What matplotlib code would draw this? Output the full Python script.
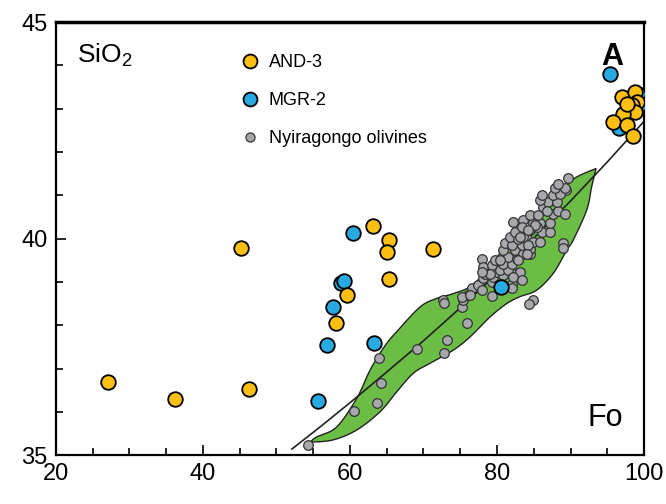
import numpy as np
import matplotlib
matplotlib.use('Agg')
import matplotlib.pyplot as plt
from matplotlib.lines import Line2D

plt.rcParams['font.family'] = ['Liberation Sans', 'DejaVu Sans']

# AND-3 (yellow)
and3_fo = [27.07, 36.19, 46.26, 45.17, 63.13, 65.27, 65.03, 65.27, 71.25, 59.63, 58.10,
           96.97, 98.78, 99.01, 98.33, 98.78, 97.18, 95.82, 97.64, 98.54, 97.64]
and3_si = [36.69, 36.29, 36.52, 39.78, 40.29, 39.98, 39.69, 39.06, 39.77, 38.70, 38.04,
           43.27, 43.39, 43.16, 43.08, 42.93, 42.89, 42.70, 42.62, 42.37, 43.12]

# MGR-2 (blue)
mgr2_fo = [60.37, 58.78, 59.22, 57.73, 56.91, 63.22, 55.65, 80.55, 95.37, 99.24, 99.46, 96.6]
mgr2_si = [40.12, 38.98, 39.03, 38.41, 37.54, 37.58, 36.24, 38.89, 43.80, 43.35, 43.12, 42.55]

# Nyiragongo olivines (gray)
nyi_fo = [54.33, 60.55, 63.72, 64.18, 63.91, 69.08, 72.79, 73.24, 75.88, 72.70,
          72.79, 75.20, 75.42, 76.10, 76.56, 77.46, 77.92, 78.14, 78.37, 79.28,
          79.50, 79.96, 80.86, 80.64, 79.28, 82.00, 82.00, 82.14, 77.92, 78.14,
          79.28, 80.41, 81.54, 79.05, 77.92, 79.73, 80.86, 82.00, 80.64, 81.54,
          82.68, 80.86, 82.45, 83.58, 84.49, 81.09, 82.00, 83.36, 84.49, 81.77,
          82.90, 84.04, 84.94, 85.85, 82.45, 84.49, 86.08, 87.21, 82.22, 83.58,
          83.36, 84.94, 85.85, 87.21, 84.49, 85.62, 87.66, 88.34, 89.25, 86.30,
          86.98, 88.12, 85.85, 86.08, 87.66, 89.39, 88.57, 87.89, 89.25, 88.34,
          89.62, 89.02, 89.02, 84.94, 84.40, 83.58, 84.26, 84.04, 83.13, 83.13,
          85.40, 82.90, 82.22, 83.36, 80.41, 86.76, 85.17, 84.26, 75.20, 76.33]
nyi_si = [35.24, 36.02, 36.20, 36.66, 37.24, 37.44, 37.37, 37.67, 38.06, 38.58,
          38.51, 38.41, 38.58, 38.69, 38.85, 38.92, 38.81, 39.08, 39.19, 39.00,
          39.11, 39.23, 39.15, 38.85, 38.67, 38.96, 38.85, 39.19, 39.54, 39.34,
          39.38, 39.27, 39.27, 39.19, 39.23, 39.50, 39.42, 39.42, 39.58, 39.58,
          39.54, 39.73, 39.73, 39.65, 39.65, 39.89, 39.85, 39.85, 39.77, 40.04,
          40.00, 40.00, 39.92, 39.92, 40.15, 40.19, 40.15, 40.15, 40.38, 40.42,
          40.27, 40.35, 40.35, 40.35, 40.54, 40.54, 40.58, 40.65, 40.58, 40.73,
          40.85, 40.85, 40.89, 41.00, 41.00, 41.12, 41.04, 41.16, 41.16, 41.27,
          41.39, 39.89, 39.79, 38.58, 38.50, 40.04, 39.85, 39.65, 39.23, 40.04,
          40.27, 39.50, 39.11, 39.04, 39.50, 40.65, 40.31, 40.19, 38.65, 38.69]

# green field outline: upper edge and lower edge, lower-left tip to upper-right tip
field_up_fo = [54.6, 55.47, 58.19, 60.91, 62.49, 63.63, 64.99, 66.35, 69.52, 71.80,
               74.05, 76.33, 78.50, 80.41, 83.13, 85.85, 88.57, 90.61, 93.47]
field_up_si = [35.30, 35.42, 35.65, 36.31, 36.88, 37.23, 37.58, 37.85, 38.42, 38.62,
               38.73, 38.89, 39.23, 39.55, 40.01, 40.54, 41.07, 41.40, 41.62]
field_lo_fo = [54.6, 57.69, 60.91, 64.08, 66.35, 68.61, 70.88, 74.01, 76.33, 79.05,
               81.32, 83.13, 85.40, 87.66, 89.48, 90.38, 92.20, 92.88, 93.47]
field_lo_si = [35.30, 35.35, 35.58, 36.00, 36.46, 36.89, 37.12, 37.42, 37.73, 38.19,
               38.50, 38.66, 38.81, 39.20, 39.73, 39.97, 40.66, 41.20, 41.62]

# stoichiometric olivine line
line_fo = [52.1, 56, 60, 65, 70, 75, 80, 85, 90, 95, 100]
line_si = [35.14, 35.66, 36.21, 36.92, 37.64, 38.40, 39.19, 40.01, 40.87, 41.77, 42.71]


def smooth(xs, ys, n=12):
    # Catmull-Rom through the traced points
    p = np.column_stack([xs, ys])
    p = np.vstack([p[0], p, p[-1]])
    out = []
    for i in range(1, len(p) - 2):
        p0, p1, p2, p3 = p[i - 1], p[i], p[i + 1], p[i + 2]
        for t in np.linspace(0, 1, n, endpoint=False):
            out.append(0.5 * ((2 * p1) + (-p0 + p2) * t
                              + (2 * p0 - 5 * p1 + 4 * p2 - p3) * t ** 2
                              + (-p0 + 3 * p1 - 3 * p2 + p3) * t ** 3))
    out.append(p[-2])
    out = np.array(out)
    return out[:, 0], out[:, 1]


ux, uy = smooth(field_up_fo, field_up_si)
lx, ly = smooth(field_lo_fo, field_lo_si)
poly_x = np.concatenate([ux, lx[::-1]])
poly_y = np.concatenate([uy, ly[::-1]])

fig = plt.figure(figsize=(6.66, 5.04), dpi=100)
ax = fig.add_axes([0.084, 0.097, 0.883, 0.859])

ax.fill(poly_x, poly_y, facecolor='#6cbd45', edgecolor='#222222', linewidth=1.0, zorder=1)
ax.plot(line_fo, line_si, color='#222222', linewidth=1.2, zorder=2)
ax.scatter(nyi_fo, nyi_si, s=48, c='#a6a8ab', edgecolors='#333333', linewidths=0.9, zorder=3)
ax.scatter(mgr2_fo, mgr2_si, s=110, c='#27aae1', edgecolors='black', linewidths=1.3, zorder=4)
ax.scatter(and3_fo, and3_si, s=110, c='#fdbf12', edgecolors='black', linewidths=1.3, zorder=5)

ax.set_xlim(20, 100)
ax.set_ylim(35, 45)
ax.set_xticks([20, 40, 60, 80, 100])
ax.set_xticks(np.arange(20, 101, 5), minor=True)
ax.set_yticks([35, 40, 45])
ax.set_yticks(np.arange(35, 46, 1), minor=True)
ax.tick_params(which='both', direction='in', labelsize=17, width=1.2, pad=6)
ax.tick_params(which='major', length=7)
ax.tick_params(which='minor', length=5)
for sp in ax.spines.values():
    sp.set_linewidth(1.6)
ax.spines['top'].set_linewidth(2.5)

ax.text(0.035, 0.955, 'SiO$_\\mathregular{2}$', transform=ax.transAxes, fontsize=19,
        ha='left', va='top')
ax.text(0.965, 0.955, 'A', transform=ax.transAxes, fontsize=22, fontweight='bold',
        ha='right', va='top')
ax.text(0.965, 0.05, 'Fo', transform=ax.transAxes, fontsize=22, ha='right', va='bottom')

handles = [
    Line2D([], [], marker='o', ls='none', markersize=10, markerfacecolor='#fdbf12',
           markeredgecolor='black', markeredgewidth=1.3, label='AND-3'),
    Line2D([], [], marker='o', ls='none', markersize=10, markerfacecolor='#27aae1',
           markeredgecolor='black', markeredgewidth=1.3, label='MGR-2'),
    Line2D([], [], marker='o', ls='none', markersize=6.5, markerfacecolor='#a6a8ab',
           markeredgecolor='#333333', markeredgewidth=0.9, label='Nyiragongo olivines'),
]
ax.legend(handles=handles, loc='upper left', bbox_to_anchor=(0.29, 0.955), frameon=False,
          fontsize=13, handletextpad=0.45, labelspacing=1.15, borderpad=0.2,
          handlelength=1.2)

fig.savefig('out.png', dpi=100)
